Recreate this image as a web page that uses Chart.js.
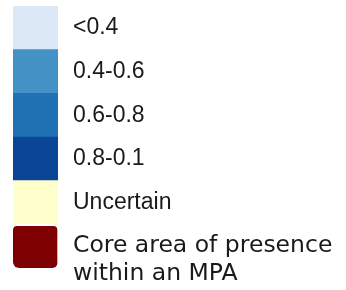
<!DOCTYPE html>
<html><head><meta charset="utf-8">
<script src="https://cdn.jsdelivr.net/npm/chart.js@4.4.1/dist/chart.umd.min.js"></script>
<style>html,body{margin:0;padding:0;background:#fff}#wrap{width:346px;height:290px}</style>
</head><body><div id="wrap"><canvas id="c" width="346" height="290"></canvas></div>
<script>
const categories = ['<0.4', '0.4-0.6', '0.6-0.8', '0.8-0.1', 'Uncertain', ['', 'Core area of presence', 'within an MPA']];
const swatchValues = [1, 1, 1, 1, 1, 1];
const swatchColors = ['#dbe8f5', '#4292c6', '#2171b5', '#0a4597', '#ffffcc', '#7f0000'];

new Chart(document.getElementById('c'), {
  type: 'bar',
  data: {
    labels: categories,
    datasets: [{
      data: swatchValues,
      backgroundColor: swatchColors,
      borderColor: '#ffffff',
      borderWidth: ctx => ctx.dataIndex === 5 ? {top: 2, left: 0, right: 1, bottom: 0} : {top: 0, left: 0, right: 0, bottom: 0},
      borderSkipped: false,
      borderRadius: ctx => ctx.dataIndex === 5 ? 6 : 0,
      barPercentage: 1,
      categoryPercentage: 1
    }]
  },
  options: {
    indexAxis: 'y',
    responsive: false,
    animation: false,
    layout: {padding: {left: 13, top: 6, bottom: 22, right: 0}},
    plugins: {legend: {display: false}, tooltip: {enabled: false}},
    scales: {
      x: {display: false, min: 0, max: 1},
      y: {
        position: 'right',
        grid: {display: false, drawTicks: false},
        border: {display: false},
        afterFit: s => { s.width = 288; s.paddingTop = 0; s.paddingBottom = 0; },
        ticks: {
          autoSkip: false,
          padding: 15,
          color: '#1a1a1a',
          font: ctx => ctx.index === 5
            ? {family: 'DejaVu Sans', size: 23.5, lineHeight: 1.16}
            : {family: 'Liberation Sans', size: 23, lineHeight: 1.2}
        }
      }
    }
  }
});
</script></body></html>
